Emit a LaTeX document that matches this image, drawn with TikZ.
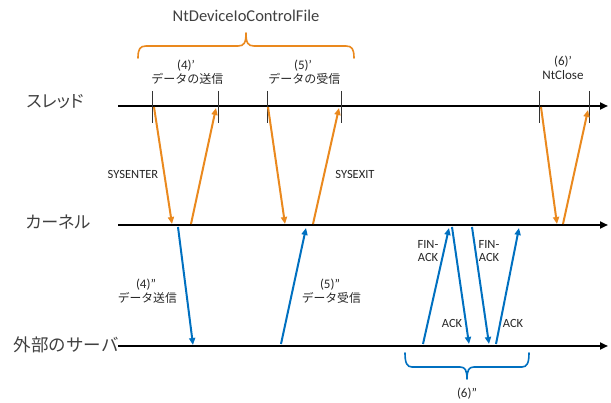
\documentclass[tikz,border=0pt]{standalone}
\usepackage{fontspec}
\setmainfont{Carlito}
\newfontfamily\jp{Noto Sans CJK JP}
\newfontfamily\jpprop[RawFeature=+palt]{Noto Sans CJK JP}
\usetikzlibrary{arrows.meta}

\definecolor{callorange}{RGB}{234,137,30}
\definecolor{netblue}{RGB}{0,112,192}
\definecolor{labelgray}{RGB}{64,64,64}

\newcommand\lfsize[1]{\fontsize{#1}{1.2\dimexpr#1pt\relax}\selectfont}

\tikzset{
  timeline/.style={line width=2.4pt, -{Triangle[length=8pt,width=7pt]}},
  tick/.style={line width=0.9pt, black!80},
  callarrow/.style={callorange, line width=2pt, -{Triangle[length=7pt,width=6pt]}},
  netarrow/.style={netblue, line width=2pt, -{Triangle[length=7pt,width=6pt]}},
  lanelabel/.style={font=\jpprop\lfsize{17}, text=labelgray, inner sep=0pt},
  smalllabel/.style={font=\lfsize{13}, align=center, inner sep=0pt, text=black!85},
  tinylabel/.style={font=\lfsize{12.5}, align=center, inner sep=0pt, text=black!85},
  bracepath/.style={line width=1.6pt, line cap=round, line join=round},
}

\begin{document}
\begin{tikzpicture}[x=1pt, y=-1pt]
\useasboundingbox (0,0) rectangle (611,403);

% lanes
\node[lanelabel] (lthread) at (55,102) {スレッド};
\node[lanelabel] (lkernel) at (58,222) {カーネル};
\node[lanelabel, font=\jp\lfsize{17.5}, anchor=east] (lserver) at (119,345) {外部のサーバ};

\coordinate (t0) at (118,106);  \coordinate (t1) at (608,106);
\coordinate (k0) at (118,225);  \coordinate (k1) at (608,225);
\coordinate (s0) at (118,346);  \coordinate (s1) at (608,346);
\draw[timeline] (t0) -- (t1);
\draw[timeline] (k0) -- (k1);
\draw[timeline] (s0) -- (s1);

% call boundaries on the thread lane
\foreach \n/\x in {a/152, b/218, c/267, d/341, e/539, f/589}{
  \coordinate (tk\n top) at (\x,91);
  \coordinate (tk\n bot) at (\x,123);
  \draw[tick] (tk\n top) -- (tk\n bot);
}

% thread <-> kernel transitions
\coordinate (o1a) at (154,107); \coordinate (o1b) at (172,224);
\coordinate (o2a) at (191,224); \coordinate (o2b) at (216,108);
\coordinate (o3a) at (268,107); \coordinate (o3b) at (285,224);
\coordinate (o4a) at (313,224); \coordinate (o4b) at (339,108);
\coordinate (o5a) at (541,107); \coordinate (o5b) at (557,224);
\coordinate (o6a) at (563,224); \coordinate (o6b) at (588,110);
\draw[callarrow] (o1a) -- (o1b);
\draw[callarrow] (o2a) -- (o2b);
\draw[callarrow] (o3a) -- (o3b);
\draw[callarrow] (o4a) -- (o4b);
\draw[callarrow] (o5a) -- (o5b);
\draw[callarrow] (o6a) -- (o6b);

% kernel <-> server packets
\coordinate (b1a) at (178,227); \coordinate (b1b) at (193,345);
\coordinate (b2a) at (281,344); \coordinate (b2b) at (306,228);
\coordinate (b3a) at (423,344); \coordinate (b3b) at (449,228);
\coordinate (b4a) at (452,227); \coordinate (b4b) at (469,344);
\coordinate (b5a) at (472,227); \coordinate (b5b) at (489,344);
\coordinate (b6a) at (496,344); \coordinate (b6b) at (519,228);
\draw[netarrow] (b1a) -- (b1b);
\draw[netarrow] (b2a) -- (b2b);
\draw[netarrow] (b3a) -- (b3b);
\draw[netarrow] (b4a) -- (b4b);
\draw[netarrow] (b5a) -- (b5b);
\draw[netarrow] (b6a) -- (b6b);

% brace over the NtDeviceIoControlFile call
\draw[bracepath, callorange]
  (138,58) .. controls (138,49) and (140,46) .. (146,46)
  -- (238,46) .. controls (244,46) and (246,43) .. (246,33)
  .. controls (246,43) and (248,46) .. (254,46)
  -- (346,46) .. controls (352,46) and (354,49) .. (354,58);
\node[font=\lfsize{16.5}, text=labelgray, inner sep=0pt] (ndev) at (246,16) {NtDeviceIoControlFile};

% brace under the connection close
\draw[bracepath, netblue]
  (405,353) .. controls (405,363) and (407,367) .. (412,367)
  -- (460,367) .. controls (465,367) and (467,370) .. (467,379)
  .. controls (467,370) and (469,367) .. (474,367)
  -- (522,367) .. controls (527,367) and (529,363) .. (529,353);
\node[smalllabel] (l6b) at (467,394) {(6)”};

% step labels
\node[smalllabel] (l4a) at (186,72) {(4)’\\[-2pt]{\jp\lfsize{12} データの送信}};
\node[smalllabel] (l5a) at (303,72) {(5)’\\[-2pt]{\jp\lfsize{12} データの受信}};
\node[smalllabel] (l6a) at (563,68) {(6)’\\[-2pt]NtClose};
\node[tinylabel] (lenter) at (133,174) {SYSENTER};
\node[tinylabel] (lexit) at (355,174) {SYSEXIT};
\node[smalllabel] (l4b) at (146,291) {(4)”\\[-2pt]{\jp\lfsize{11.8} データ送信}};
\node[smalllabel] (l5b) at (330,291) {(5)”\\[-2pt]{\jp\lfsize{11.8} データ受信}};
\node[tinylabel] (lfin1) at (428,251) {FIN-\\[-2pt]ACK};
\node[tinylabel] (lfin2) at (489,251) {FIN-\\[-2pt]ACK};
\node[tinylabel] (lack1) at (452,323) {ACK};
\node[tinylabel] (lack2) at (513,323) {ACK};
\end{tikzpicture}
\end{document}
